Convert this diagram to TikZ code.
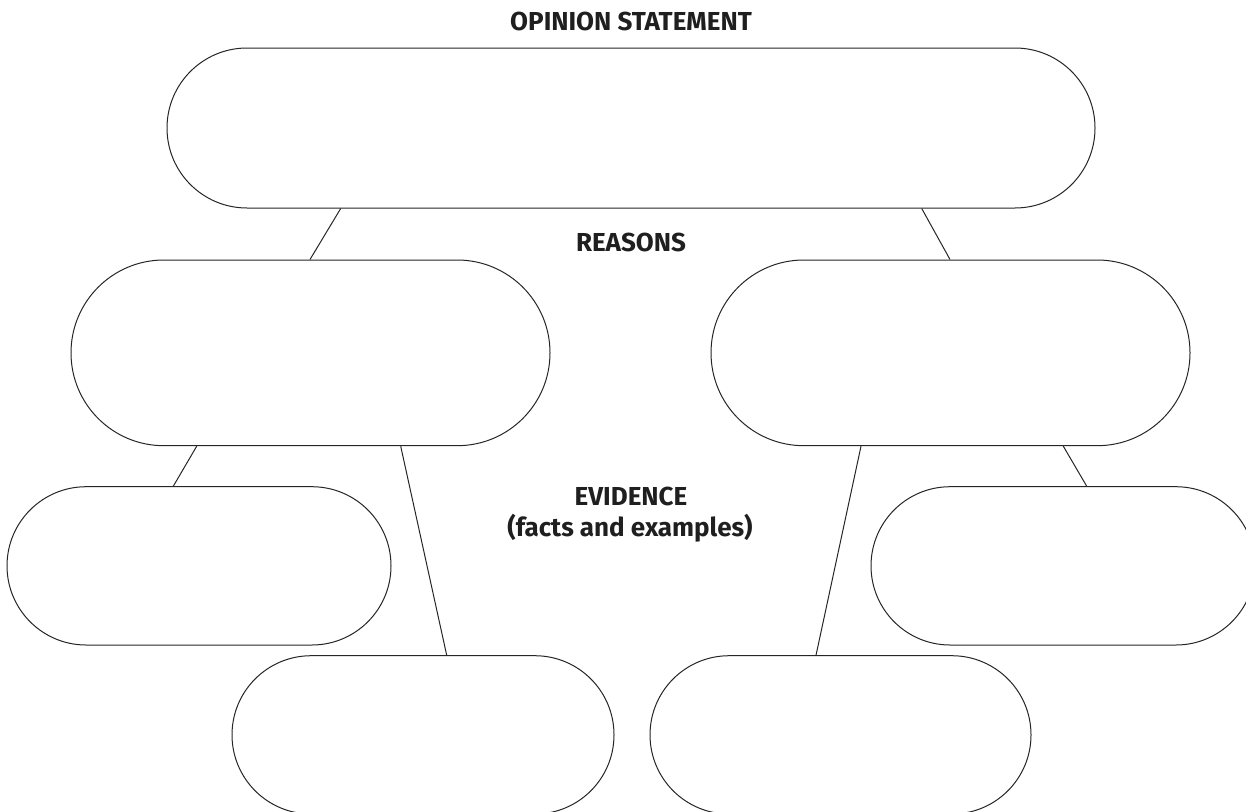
\documentclass[tikz,border=0pt]{standalone}
\usepackage{fontspec}
\setmainfont{Fira Sans}
\begin{document}
\begin{tikzpicture}[x=1pt,y=-1pt,
  pill/.style={draw=black!85, line width=1pt, rectangle, inner sep=0pt, fill=white},
  link/.style={draw=black!85, line width=1pt},
  lbl/.style={font=\fontsize{26}{31}\selectfont\bfseries, text=black!88, anchor=base, inner sep=0pt}]
\path[use as bounding box] (0,0) rectangle (1246,811);
\begin{scope}
\clip (0,0) rectangle (1246,811);
\node[pill, minimum width=928pt, minimum height=160pt, rounded corners=80pt] (op) at (631,128) {};
\node[pill, minimum width=479pt, minimum height=185.7pt, rounded corners=92.85pt] (rl) at (310.5,352.85) {};
\node[pill, minimum width=479pt, minimum height=185.7pt, rounded corners=92.85pt] (rr) at (950.5,352.85) {};
\node[pill, minimum width=384pt, minimum height=158.3pt, rounded corners=79.15pt] (el) at (199,565.85) {};
\node[pill, minimum width=384pt, minimum height=158.3pt, rounded corners=79.15pt] (er) at (1063,565.85) {};
\node[pill, minimum width=382pt, minimum height=158.3pt, rounded corners=79.15pt] (bl) at (423,734.85) {};
\node[pill, minimum width=381pt, minimum height=158.3pt, rounded corners=79.15pt] (br) at (840.5,734.85) {};
\end{scope}
\draw[link] ([xshift=-290.3pt]op.south) -- ([xshift=-0.5pt]rl.north);
\draw[link] ([xshift=290.7pt]op.south) -- ([xshift=-0.5pt]rr.north);
\draw[link] ([xshift=-113.8pt]rl.south) -- ([xshift=-25.7pt]el.north);
\draw[link] ([xshift=90.2pt]rl.south) -- ([xshift=23.7pt]bl.north);
\draw[link] ([xshift=-89.5pt]rr.south) -- ([xshift=-24.5pt]br.north);
\draw[link] ([xshift=112.8pt]rr.south) -- ([xshift=23.7pt]er.north);
\node[lbl] (t1) at (631,30.5) {OPINION STATEMENT};
\node[lbl] (t2) at (631,251) {REASONS};
\node[lbl] (t3) at (631,505) {EVIDENCE};
\node[lbl] (t4) at (630,536) {(facts and examples)};
\end{tikzpicture}
\end{document}
